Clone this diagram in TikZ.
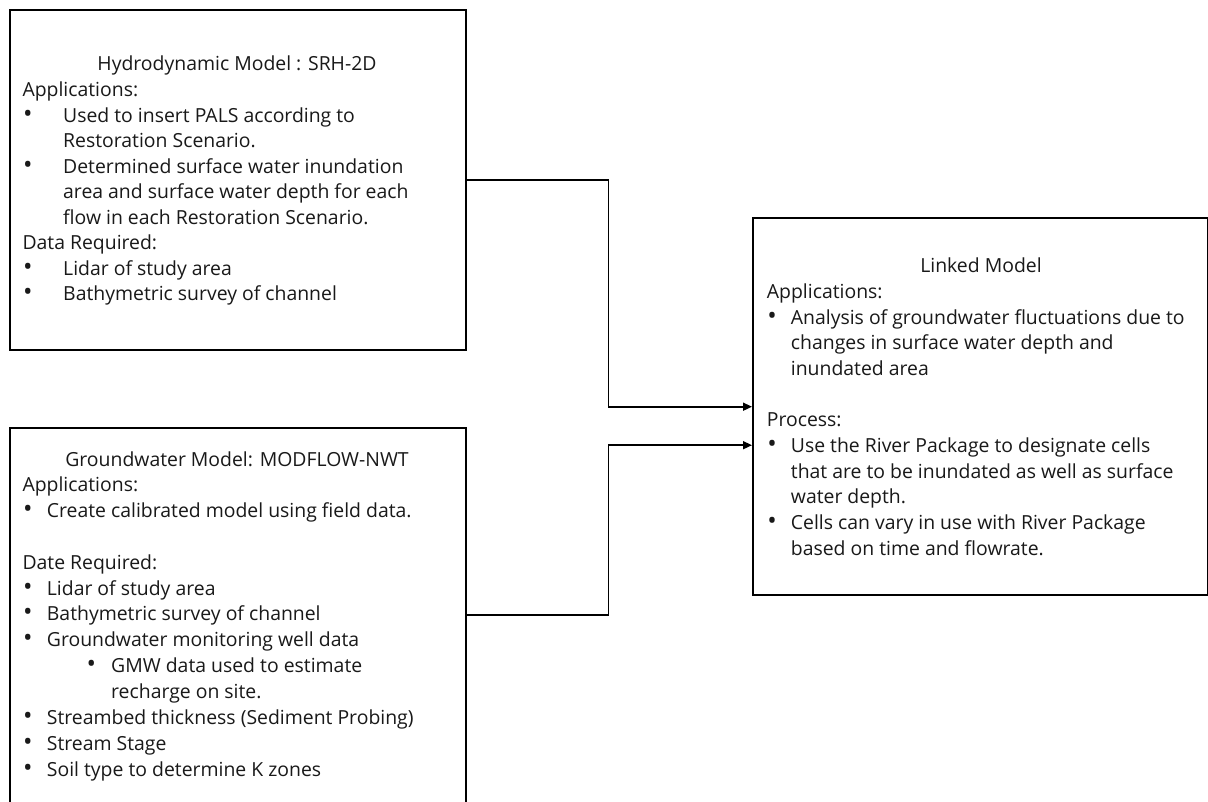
\documentclass[tikz,border=0pt]{standalone}
\usepackage{fontspec}
\setmainfont{Open Sans}
\usetikzlibrary{arrows.meta}
\newcommand\bul[2]{\hbox{\makebox[#1][l]{\kern0.5pt\scalebox{1.3}{•}}#2}}
\newcommand\cont[2]{\hbox{\kern#1#2}}
\tikzset{
  box/.style={draw=black, line width=1.8pt, anchor=north west, inner sep=0pt},
  txt/.style={anchor=base west, inner sep=0pt, font=\fontsize{19.4}{22}\selectfont, text=black!90},
  ttl/.style={anchor=base, inner sep=0pt, font=\fontsize{19.4}{22}\selectfont, text=black!90},
  arr/.style={draw=black, line width=1.6pt, -{Triangle[length=9pt,width=8pt]}}
}
\begin{document}
\begin{tikzpicture}[x=1pt,y=-1pt]
\clip (0,0) rectangle (1208,801);
\fill[white] (0,0) rectangle (1208,801);
% boxes
\node[box, minimum width=456pt, minimum height=340pt] (hyd) at (9,9) {};
\node[box, minimum width=456pt, minimum height=375.3pt] (gw) at (9,426.7) {};
\node[box, minimum width=454.7pt, minimum height=377pt] (link) at (752,217.3) {};
% titles
\node[ttl] (hydt) at (237,70) {Hydrodynamic Model : SRH-2D};
\node[ttl] (gwt) at (237,466.7) {Groundwater Model: MODFLOW-NWT};
\node[ttl] (linkt) at (981,272.3) {Linked Model};
% body texts
\node[txt] (hydb) at (22.3,96.7) {\vtop{\baselineskip=25.5pt
  \hbox{Applications:}
  \bul{40.7pt}{Used to insert PALS according to}
  \cont{40.7pt}{Restoration Scenario.}
  \bul{40.7pt}{Determined surface water inundation}
  \cont{40.7pt}{area and surface water depth for each}
  \cont{40.7pt}{flow in each Restoration Scenario.}
  \hbox{Data Required:}
  \bul{40.7pt}{Lidar of study area}
  \bul{40.7pt}{Bathymetric survey of channel}}};
\node[txt] (gwb) at (22.3,491.7) {\vtop{\baselineskip=25.85pt
  \hbox{Applications:}
  \bul{24.4pt}{Create calibrated model using field data.}
  \hbox{}
  \hbox{Date Required:}
  \bul{24.4pt}{Lidar of study area}
  \bul{24.4pt}{Bathymetric survey of channel}
  \bul{24.4pt}{Groundwater monitoring well data}
  \hbox{\kern64pt\makebox[24.7pt][l]{\scalebox{1.3}{•}}GMW data used to estimate}
  \cont{88.7pt}{recharge on site.}
  \bul{24.4pt}{Streambed thickness (Sediment Probing)}
  \bul{24.4pt}{Stream Stage}
  \bul{24.4pt}{Soil type to determine K zones}}};
\node[txt] (linkb) at (766.7,298.3) {\vtop{\baselineskip=25.7pt
  \hbox{Applications:}
  \bul{24pt}{Analysis of groundwater fluctuations due to}
  \cont{24pt}{changes in surface water depth and}
  \cont{24pt}{inundated area}
  \hbox{}
  \hbox{Process:}
  \bul{24pt}{Use the River Package to designate cells}
  \cont{24pt}{that are to be inundated as well as surface}
  \cont{24pt}{water depth.}
  \bul{24pt}{Cells can vary in use with River Package}
  \cont{24pt}{based on time and flowrate.}}};
% connectors
\coordinate (mx) at (608.3,0);
\coordinate (in2) at ([yshift=-38.5pt]link.west);
\draw[arr] (hyd.east) -- (hyd.east -| mx) |- (link.west);
\draw[arr] (gw.east) -- (gw.east -| mx) |- (in2);
\end{tikzpicture}
\end{document}
